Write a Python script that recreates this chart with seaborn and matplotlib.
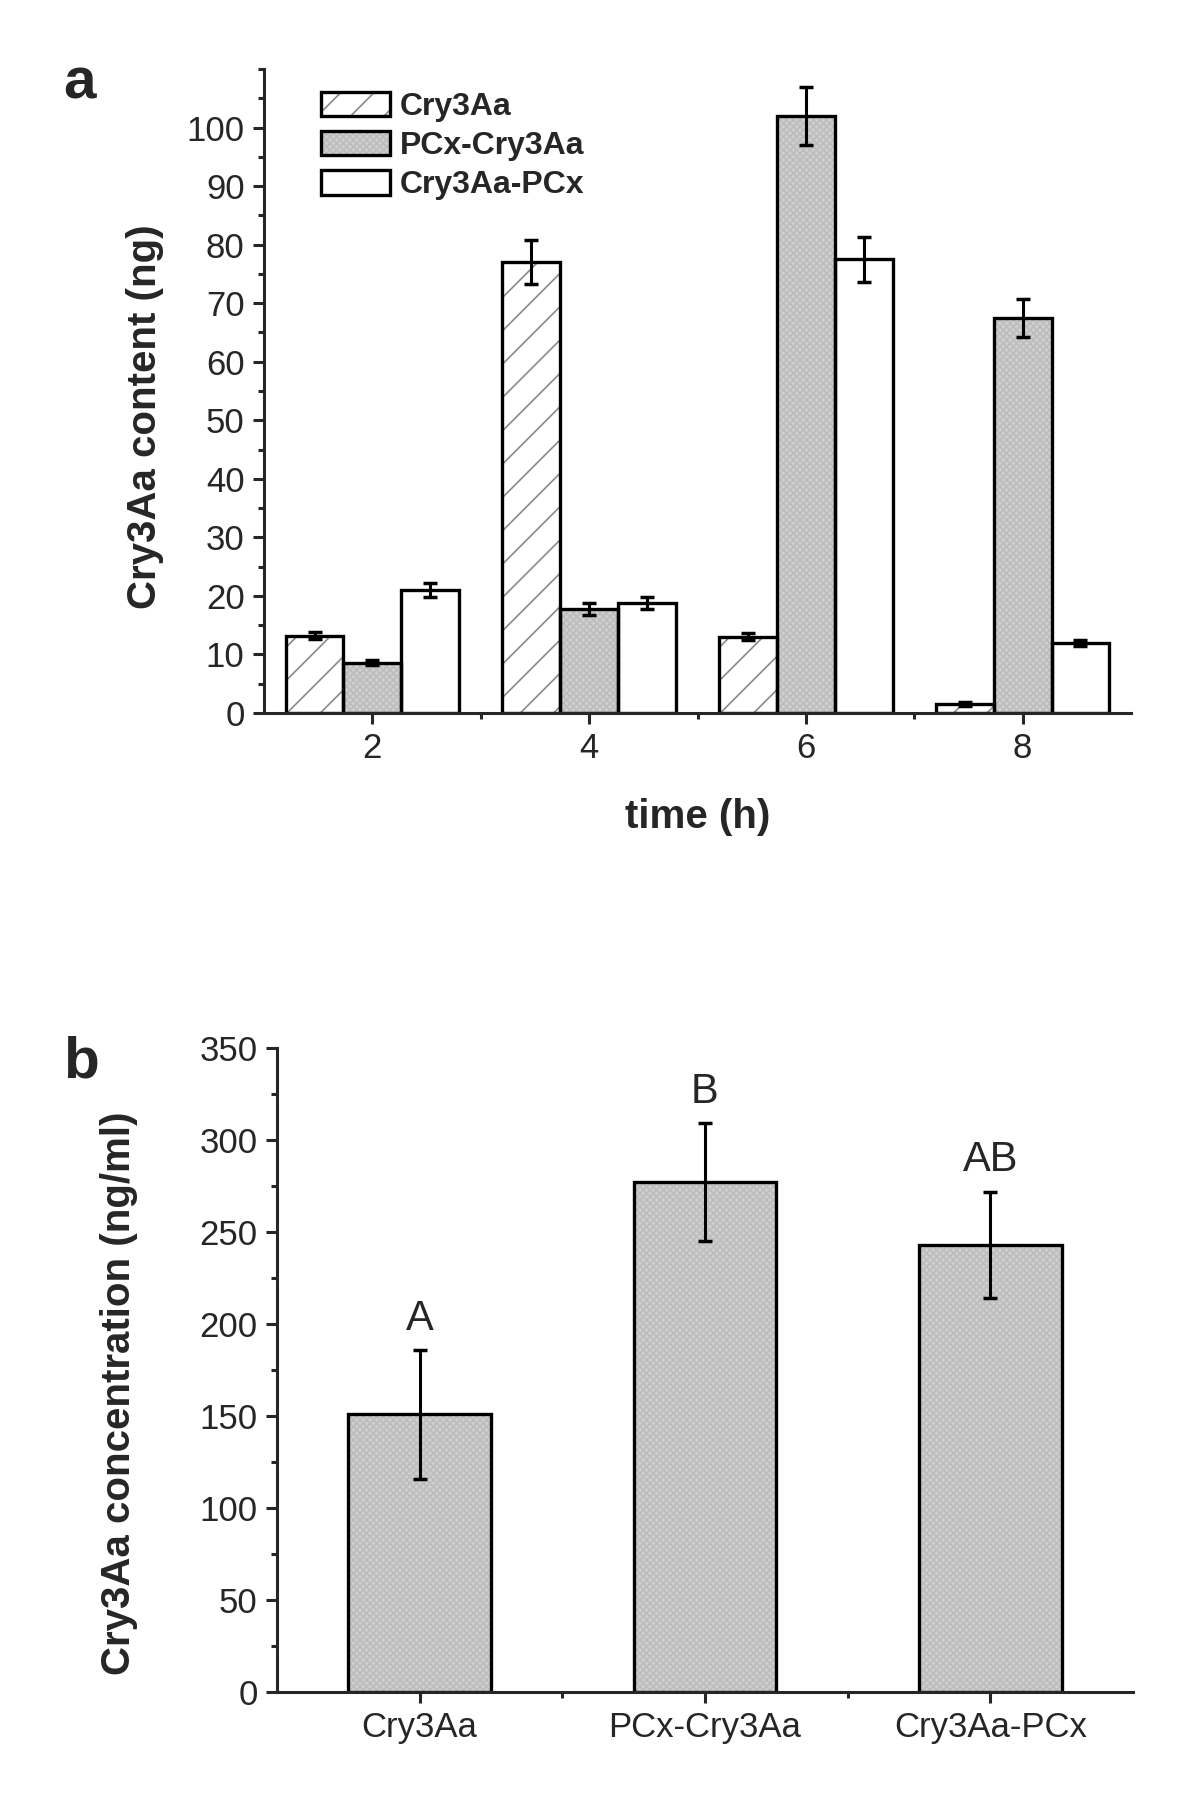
import numpy as np
import pandas as pd
import matplotlib
matplotlib.use('Agg')
import matplotlib.pyplot as plt
from matplotlib.patches import Patch
from matplotlib.ticker import MultipleLocator, FixedLocator
import seaborn as sns

# panel a: content over time
times = [2, 4, 6, 8]
constructs = ['Cry3Aa', 'PCx-Cry3Aa', 'Cry3Aa-PCx']
cry3aa = [13.2, 77.0, 13.0, 1.5]
pcx_cry3aa = [8.6, 17.8, 102.0, 67.5]
cry3aa_pcx = [21.0, 18.8, 77.5, 12.0]
cry3aa_err = [0.6, 3.8, 0.6, 0.3]
pcx_cry3aa_err = [0.4, 1.0, 5.0, 3.3]
cry3aa_pcx_err = [1.2, 1.0, 3.8, 0.5]

# panel b: concentration
conc = [151, 277, 243]
conc_err = [35, 32, 29]
letters = ['A', 'B', 'AB']

df_a = pd.DataFrame({
    'time': times * 3,
    'construct': [c for c in constructs for _ in times],
    'content': cry3aa + pcx_cry3aa + cry3aa_pcx,
    'err': cry3aa_err + pcx_cry3aa_err + cry3aa_pcx_err,
})
df_b = pd.DataFrame({'construct': constructs, 'conc': conc, 'err': conc_err})

sns.set_style('ticks')
plt.rcParams['font.family'] = ['Liberation Sans', 'DejaVu Sans']
plt.rcParams['hatch.linewidth'] = 1.2
plt.rcParams['axes.linewidth'] = 2.2

face = {'Cry3Aa': 'white', 'PCx-Cry3Aa': '#d0d0d0', 'Cry3Aa-PCx': 'white'}
hatch = {'Cry3Aa': '/', 'PCx-Cry3Aa': 'xxxxx', 'Cry3Aa-PCx': ''}
hcol = {'Cry3Aa': '#8a8a8a', 'PCx-Cry3Aa': '#bdbdbd', 'Cry3Aa-PCx': 'white'}
black = {c: 'black' for c in constructs}

fig = plt.figure(figsize=(12, 18.12), dpi=100)
ax1 = fig.add_axes([0.22, 0.6065, 0.7225, 0.3554])
ax2 = fig.add_axes([0.2308, 0.0662, 0.7133, 0.3554])

# top panel bars (fill + hatch, then outline)
sns.barplot(data=df_a, x='time', y='content', hue='construct', hue_order=constructs,
            native_scale=True, width=0.8, errorbar=None, palette=face, saturation=1,
            linewidth=0, legend=False, ax=ax1)
for cont, name in zip(ax1.containers, constructs):
    for p in cont:
        p.set_hatch(hatch[name])
        p.set_edgecolor(hcol[name])
        p.set_linewidth(0)
sns.barplot(data=df_a, x='time', y='content', hue='construct', hue_order=constructs,
            native_scale=True, width=0.8, errorbar=None, palette=black, fill=False,
            linewidth=2.4, legend=False, ax=ax1)

for cont, name in zip(ax1.containers[:3], constructs):
    sub = df_a[df_a['construct'] == name]
    xs = [p.get_x() + p.get_width() / 2 for p in cont]
    ax1.errorbar(xs, sub['content'], yerr=sub['err'], fmt='none', ecolor='black',
                 elinewidth=2.2, capsize=5, capthick=2.5, zorder=5)

ax1.set_xlim(1, 9)
ax1.set_ylim(0, 110)
ax1.xaxis.set_major_locator(FixedLocator(times))
ax1.xaxis.set_minor_locator(FixedLocator([3, 5, 7]))
ax1.yaxis.set_major_locator(FixedLocator(np.arange(0, 101, 10)))
ax1.yaxis.set_minor_locator(MultipleLocator(5))
ax1.set_xlabel('time (h)', fontsize=29, fontweight='bold')
ax1.set_ylabel('Cry3Aa content (ng)', fontsize=29, fontweight='bold')
ax1.xaxis.set_label_coords(0.5, -0.132)
ax1.yaxis.set_label_coords(-0.115, 0.46)

# legend swatches: hatched fill under a black outline, like the bars
handles = [(Patch(facecolor=face[c], edgecolor=hcol[c], hatch=hatch[c], linewidth=0),
            Patch(facecolor='none', edgecolor='black', linewidth=2.4))
           for c in constructs]
ax1.legend(handles, constructs, loc='upper left', bbox_to_anchor=(0.066, 0.965),
           frameon=False, prop={'weight': 'bold', 'size': 23}, handlelength=2.15,
           handleheight=0.8, labelspacing=0.28, handletextpad=0.3, borderpad=0,
           borderaxespad=0)

# bottom panel
sns.barplot(data=df_b, x='construct', y='conc', color=face['PCx-Cry3Aa'], saturation=1,
            width=0.5, errorbar=None, linewidth=0, ax=ax2)
for p in ax2.patches:
    p.set_hatch(hatch['PCx-Cry3Aa'])
    p.set_edgecolor(hcol['PCx-Cry3Aa'])
    p.set_linewidth(0)
sns.barplot(data=df_b, x='construct', y='conc', color='black', fill=False,
            width=0.5, errorbar=None, linewidth=2.4, ax=ax2)
xs = [p.get_x() + p.get_width() / 2 for p in ax2.containers[0]]
ax2.errorbar(xs, df_b['conc'], yerr=df_b['err'], fmt='none', ecolor='black',
             elinewidth=2.2, capsize=5, capthick=2.5, zorder=5)
for x, v, e, t in zip(xs, conc, conc_err, letters):
    ax2.text(x, v + e + 17, t, ha='center', va='center', fontsize=30)

ax2.set_xlim(-0.5, 2.5)
ax2.set_ylim(0, 350)
ax2.xaxis.set_minor_locator(FixedLocator([0.5, 1.5]))
ax2.yaxis.set_major_locator(MultipleLocator(50))
ax2.yaxis.set_minor_locator(MultipleLocator(25))
ax2.set_xlabel('')
ax2.set_ylabel('Cry3Aa concentration (ng/ml)', fontsize=29, fontweight='bold')
ax2.yaxis.set_label_coords(-0.162, 0.464)

for ax in (ax1, ax2):
    sns.despine(ax=ax)
    ax.tick_params(which='major', direction='out', length=8, width=2.2, labelsize=25, pad=6)
    ax.tick_params(which='minor', direction='out', length=4, width=2.2)

fig.text(0.066, 0.954, 'a', fontsize=42, fontweight='bold', ha='center', va='center')
fig.text(0.0675, 0.4134, 'b', fontsize=42, fontweight='bold', ha='center', va='center')

fig.savefig('out.png', dpi=100, facecolor='white')
